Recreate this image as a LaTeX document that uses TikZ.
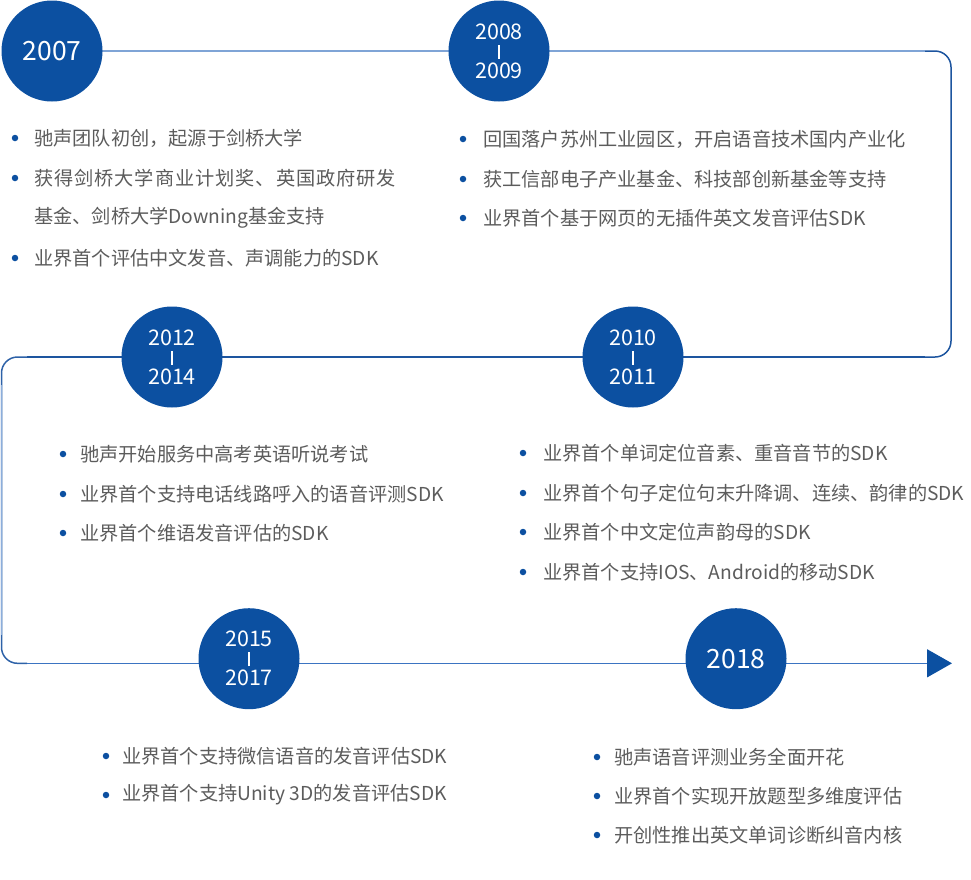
\documentclass[tikz,border=0pt]{standalone}
\usepackage{fontspec}
\setmainfont{Noto Sans CJK SC}
\usetikzlibrary{arrows.meta,backgrounds}
\definecolor{cblue}{HTML}{0C50A1}
\definecolor{lineA}{HTML}{7FA4D6}
\definecolor{lineB}{HTML}{1D559F}
\definecolor{lineC}{HTML}{3B74C2}
\definecolor{lineD}{HTML}{8CAEDC}
\definecolor{txtgray}{HTML}{5C5C5C}
\newcommand\yrtwo[2]{#1\\\rule{1.2pt}{14pt}\\#2}
\newcommand\tlentry[5]{\node[dotb] (#1d) at (#2,#4) {}; \node[itemt] (#1) at (#3,#4) {#5};}
\tikzset{
  yearc/.style={circle, fill=cblue, minimum size=101pt, inner sep=0pt, text=white, align=center, font=\fontsize{21.5}{19.5}\selectfont},
  yearbig/.style={yearc, font=\fontsize{26.5}{26.5}\selectfont},
  itemt/.style={anchor=west, inner sep=0pt, text=txtgray, font=\fontsize{19.2}{19.2}\selectfont},
  dotb/.style={circle, fill=cblue, minimum size=6.5pt, inner sep=0pt},
  tline/.style={line width=1.5pt},
}
\begin{document}
\begin{tikzpicture}[x=1pt,y=-1pt]
\useasboundingbox (0,0) rectangle (971,879);
% year circles
\node[yearbig] (y2007) at (52,51) {2007};
\node[yearc] (y2008) at (499,51) {\yrtwo{2008}{2009}};
\node[yearc] (y2010) at (633,357) {\yrtwo{2010}{2011}};
\node[yearc] (y2012) at (172,357) {\yrtwo{2012}{2014}};
\node[yearc] (y2015) at (249,658.7) {\yrtwo{2015}{2017}};
\node[yearbig] (y2018) at (736,658.7) {2018};
% corner coordinates
\coordinate (tA) at (925,51);
\coordinate (c1) at (951,51);
\coordinate (c2) at (951,357);
\coordinate (tB) at (925,357);
\coordinate (tC) at (27,357);
\coordinate (c3) at (1.5,357);
\coordinate (c4) at (1.5,663.3);
\coordinate (tD) at (27,663.3);
\coordinate (lv1) at (1.5,385);
\coordinate (lv2) at (1.5,635);
\coordinate (tip) at (952,663.3);
\begin{pgfonlayer}{background}
\draw[tline, lineA] (y2007.center) -- (y2008.center) -- (tA);
\draw[tline, lineB, rounded corners=16pt] (tA) -- (c1) -- (c2) -- (tB);
\draw[tline, lineB] (tB) -- (y2010.center) -- (y2012.center) -- (tC);
\draw[tline, lineB!85!lineD, rounded corners=16pt] (tC) -- (c3) -- (c4) -- (tD);
\draw[tline, lineD] (lv1) -- (lv2);
\draw[tline, lineC, -{Triangle[length=25pt,width=28pt,color=cblue]}] (tD) -- (tip);
\end{pgfonlayer}
% 2007
\tlentry{a1}{15}{34}{138}{驰声团队初创，起源于剑桥大学}
\tlentry{a2}{15}{34}{178}{\addfontfeature{LetterSpace=5}获得剑桥大学商业计划奖、英国政府研发}
\node[itemt] (a3) at (34,218) {基金、剑桥大学Downing基金支持};
\tlentry{a4}{15}{34}{258}{业界首个评估中文发音、声调能力的SDK}
% 2008
\tlentry{b1}{463}{483}{139}{回国落户苏州工业园区，开启语音技术国内产业化}
\tlentry{b2}{463}{483}{179}{获工信部电子产业基金、科技部创新基金等支持}
\tlentry{b3}{463}{483}{218}{业界首个基于网页的无插件英文发音评估SDK}
% 2012
\tlentry{c1t}{63}{80}{454}{驰声开始服务中高考英语听说考试}
\tlentry{c2t}{63}{80}{494}{业界首个支持电话线路呼入的语音评测SDK}
\tlentry{c3t}{63}{80}{533}{业界首个维语发音评估的SDK}
% 2010
\tlentry{d1}{523}{543}{453}{业界首个单词定位音素、重音音节的SDK}
\tlentry{d2}{523}{543}{493}{业界首个句子定位句末升降调、连续、韵律的SDK}
\tlentry{d3}{523}{543}{532}{业界首个中文定位声韵母的SDK}
\tlentry{d4}{523}{543}{572}{业界首个支持IOS、Android的移动SDK}
% 2015
\tlentry{e1}{106}{122}{756}{业界首个支持微信语音的发音评估SDK}
\tlentry{e2}{106}{122}{795}{业界首个支持Unity 3D的发音评估SDK}
% 2018
\tlentry{f1}{597}{614}{757}{驰声语音评测业务全面开花}
\tlentry{f2}{597}{614}{796}{业界首个实现开放题型多维度评估}
\tlentry{f3}{597}{614}{835}{开创性推出英文单词诊断纠音内核}
\end{tikzpicture}
\end{document}
